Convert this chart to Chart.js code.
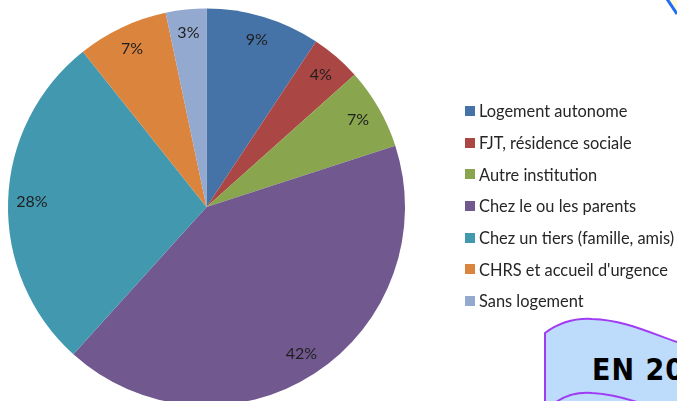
<!DOCTYPE html>
<html lang="fr">
<head>
<meta charset="utf-8">
<script src="https://cdn.jsdelivr.net/npm/chart.js@4/dist/chart.umd.min.js"></script>
<style>
  html, body { margin: 0; padding: 0; background: #fff; overflow: hidden; }
  #wrap { position: relative; width: 677px; height: 401px; overflow: hidden; }
  #pie { position: absolute; left: 0; top: 0; }
  #legend { position: absolute; left: 465px; top: 95px; font-family: Lato, sans-serif; font-size: 16.4px; color: #262626; }
  #legend .item { height: 31.7px; display: flex; align-items: center; white-space: nowrap; }
  #legend .box { width: 10px; height: 10px; margin-right: 4px; flex: none; }
  #deco { position: absolute; left: 0; top: 0; }
  #badge { position: absolute; left: 592px; top: 352px; font-family: "DejaVu Sans Condensed", "DejaVu Sans", sans-serif; font-weight: bold; font-size: 30px; letter-spacing: 1px; color: #000; white-space: nowrap; }
</style>
</head>
<body>
<div id="wrap">
  <svg id="deco" width="677" height="401">
    <path d="M667,-2 L679,16 L679,-2 Z" fill="#fdf9d8" />
    <line x1="667" y1="-1" x2="677" y2="14" stroke="#1f6cf5" stroke-width="3" />
    <path d="M545,333 C560,322 575,318 592,319 C625,320 650,333 680,343 L680,405 L545,405 Z" fill="#bddcfb" stroke="#a13cf5" stroke-width="2" />
    <path d="M556,402 C568,394 580,392 592,393 C610,394 625,398 640,403" fill="none" stroke="#a13cf5" stroke-width="2" />
  </svg>
  <div id="badge">EN 2011</div>
  <canvas id="pie" width="677" height="414"></canvas>
  <div id="legend"></div>
</div>
<script>
const categories = [
  "Logement autonome",
  "FJT, résidence sociale",
  "Autre institution",
  "Chez le ou les parents",
  "Chez un tiers (famille, amis)",
  "CHRS et accueil d'urgence",
  "Sans logement"
];
const shares = [9.3, 4.1, 6.6, 41.7, 27.6, 7.4, 3.3];
const colors = ["#4573a7", "#aa4744", "#89a54e", "#71598f", "#4298af", "#db843d", "#93a9cf"];

// percentage labels placed near the rim of each slice
const sliceLabels = {
  id: "sliceLabels",
  afterDatasetsDraw(chart) {
    const ctx = chart.ctx;
    const meta = chart.getDatasetMeta(0);
    ctx.save();
    ctx.font = "16px Lato, sans-serif";
    ctx.fillStyle = "#1e1e1e";
    ctx.textAlign = "center";
    ctx.textBaseline = "middle";
    meta.data.forEach((arc, i) => {
      const p = arc.getProps(["x", "y", "startAngle", "endAngle", "outerRadius"], true);
      const mid = (p.startAngle + p.endAngle) / 2;
      const r = p.outerRadius * 0.88;
      ctx.fillText(Math.round(shares[i]) + "%", p.x + Math.cos(mid) * r, p.y + Math.sin(mid) * r);
    });
    ctx.restore();
  }
};

const chart = new Chart(document.getElementById("pie"), {
  type: "pie",
  data: {
    labels: categories,
    datasets: [{
      data: shares,
      backgroundColor: colors,
      borderWidth: 0
    }]
  },
  options: {
    responsive: false,
    animation: false,
    layout: { padding: { left: 8, right: 272, top: 8, bottom: 8 } },
    plugins: {
      legend: { display: false },
      tooltip: { enabled: false }
    }
  },
  plugins: [sliceLabels]
});

// legend built from the chart's own legend items
const legendEl = document.getElementById("legend");
chart.options.plugins.legend.labels.generateLabels(chart).forEach((item) => {
  const row = document.createElement("div");
  row.className = "item";
  const box = document.createElement("span");
  box.className = "box";
  box.style.background = item.fillStyle;
  row.appendChild(box);
  row.appendChild(document.createTextNode(item.text));
  legendEl.appendChild(row);
});
</script>
</body>
</html>
